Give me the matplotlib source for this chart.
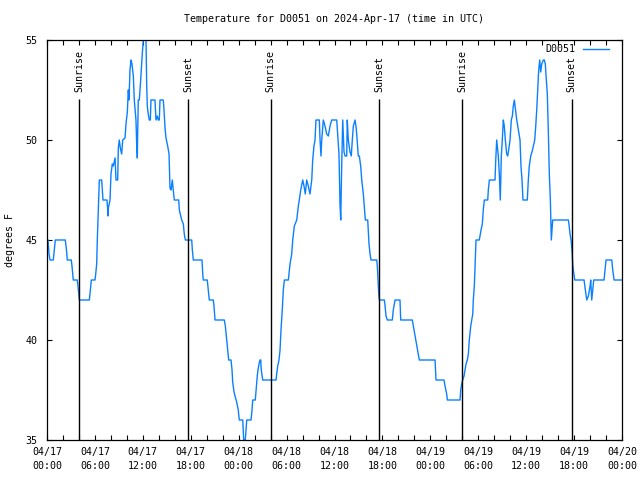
import matplotlib
matplotlib.use("Agg")
import matplotlib.pyplot as plt

# hours since 2024-04-17 00:00 UTC and temperature (F)
hours = [
    0.00, 0.13, 0.25, 0.38, 0.79, 0.94, 1.04, 2.29, 2.44, 2.54, 3.04, 3.13, 3.29, 3.79,
    3.88, 3.97, 4.05, 5.30, 5.38, 5.47, 5.55, 6.01, 6.10, 6.22, 6.30, 6.42, 6.55, 6.85,
    6.95, 7.01, 7.51, 7.60, 7.64, 7.68, 7.89, 8.01, 8.18, 8.30, 8.52, 8.64, 8.85, 8.93,
    9.05, 9.18, 9.35, 9.48, 9.77, 9.89, 10.06, 10.18, 10.27, 10.39, 10.52, 10.64, 10.81,
    10.93, 11.14, 11.23, 11.31, 11.36, 11.43, 11.56, 11.73, 11.93, 12.06, 12.40, 12.48,
    12.56, 12.68, 12.81, 12.94, 13.02, 13.52, 13.65, 13.81, 13.94, 14.06, 14.15, 14.56,
    14.65, 14.78, 14.90, 15.11, 15.28, 15.40, 15.53, 15.69, 15.82, 15.94, 16.49, 16.57,
    16.87, 17.07, 17.19, 17.32, 18.12, 18.20, 18.32, 19.41, 19.50, 19.57, 20.07, 20.20,
    20.32, 20.82, 20.91, 21.04, 22.20, 22.33, 22.50, 22.63, 22.75, 23.04, 23.17, 23.25,
    23.42, 23.54, 23.75, 23.95, 24.08, 24.51, 24.63, 24.83, 24.92, 25.01, 25.55, 25.67,
    25.76, 26.08, 26.21, 26.33, 26.42, 26.55, 26.67, 26.76, 26.83, 27.01, 28.68, 28.76,
    28.89, 29.05, 29.18, 29.30, 29.46, 29.59, 29.72, 30.22, 30.30, 30.43, 30.64, 30.77,
    30.97, 31.27, 31.47, 31.59, 31.77, 32.02, 32.18, 32.34, 32.52, 32.72, 32.93, 33.15,
    33.27, 33.43, 33.56, 33.68, 34.10, 34.19, 34.31, 34.40, 34.60, 34.81, 35.02, 35.23,
    35.44, 35.65, 36.28, 36.40, 36.56, 36.69, 36.78, 36.90, 37.03, 37.19, 37.32, 37.53,
    37.60, 37.73, 37.94, 38.10, 38.23, 38.36, 38.57, 38.69, 38.78, 38.98, 39.11, 39.28,
    39.41, 39.61, 39.73, 39.86, 40.16, 40.23, 40.32, 40.45, 40.57, 41.29, 41.36, 41.45,
    41.54, 41.61, 42.24, 42.32, 42.45, 42.61, 43.24, 43.36, 43.58, 44.20, 44.29, 45.74,
    45.87, 46.08, 46.29, 46.49, 46.62, 48.59, 48.71, 49.71, 49.84, 50.05, 50.13, 51.72,
    51.80, 51.93, 52.05, 52.22, 52.34, 52.47, 52.63, 52.76, 52.88, 53.06, 53.18, 53.31,
    53.38, 53.51, 53.63, 53.72, 54.13, 54.22, 54.35, 54.51, 54.63, 54.76, 55.19, 55.26,
    55.39, 56.10, 56.19, 56.31, 56.39, 56.51, 56.64, 56.76, 56.89, 57.01, 57.14, 57.26,
    57.39, 57.56, 57.69, 57.81, 57.98, 58.14, 58.27, 58.39, 58.52, 58.64, 58.82, 58.94,
    59.10, 59.23, 59.35, 59.48, 59.60, 60.14, 60.27, 60.39, 60.57, 60.73, 60.90, 61.07,
    61.20, 61.32, 61.45, 61.57, 61.70, 61.82, 61.95, 62.15, 62.27, 62.40, 62.49, 62.65,
    62.77, 62.90, 63.03, 63.11, 63.15, 63.24, 63.32, 65.28, 65.37, 65.49, 65.62, 65.74,
    65.83, 65.91, 66.08, 67.25, 67.41, 67.59, 67.79, 67.91, 68.00, 68.08, 68.21, 68.33,
    68.46, 69.75, 69.88, 70.00, 70.72, 70.84, 71.01, 72.00,
]
temps = [
    45, 45, 44.3, 44, 44, 44.6, 45, 45, 44.5, 44, 44, 43.7, 43, 43,
    42.7, 42.3, 42, 42, 42.3, 42.7, 43, 43, 43.3, 43.8, 45, 46.5, 48, 48,
    47.4, 47, 47, 46.5, 46.2, 46.6, 47, 48.3, 48.8, 48.7, 49.1, 48, 48, 49.6,
    50, 49.6, 49.3, 50, 50.1, 50.8, 51.4, 52.5, 52, 53.5, 54, 53.8, 53.2,
    52, 51, 49.8, 49.1, 50.5, 52, 52, 53, 54.3, 55, 55, 52.8,
    51.7, 51.3, 51, 51, 52, 52, 51, 51.2, 51, 51, 52, 52,
    51.5, 50.6, 50.1, 49.7, 49.3, 47.6, 47.5, 48, 47.5, 47, 47, 46.5,
    46, 45.8, 45.3, 45, 45, 44.5, 44, 44, 43.3, 43, 43, 42.5,
    42, 42, 41.7, 41, 41, 40.7, 40, 39.5, 39, 39, 38.5, 37.9,
    37.4, 37.2, 36.9, 36.5, 36, 36, 35, 35, 35.5, 36, 36, 36.5,
    37, 37, 37.6, 38.2, 38.5, 38.8, 39, 39, 38.5, 38, 38, 38.3,
    38.7, 39, 39.5, 40.5, 41.5, 42.5, 43, 43, 43.3, 43.8, 44.3, 45,
    45.7, 46, 46.7, 47, 47.5, 48, 47.7, 47.3, 48, 47.7, 47.3, 48,
    49, 49.7, 50, 51, 51, 50, 49.2, 50, 51, 50.7, 50.3, 50.2,
    50.7, 51, 51, 50.3, 49.3, 46.8, 46, 48.7, 51, 49.4, 49.2, 49.2,
    51, 50, 49.4, 49.2, 50, 50.7, 51, 50.7, 50.3, 49.2, 49.2, 48.7,
    48, 47.3, 46.7, 46, 46, 45.5, 44.8, 44.3, 44, 44, 43.7, 43,
    42.3, 42, 42, 41.75, 41.2, 41, 41, 41.5, 42, 42, 41, 41,
    40.7, 40.2, 39.7, 39.3, 39, 39, 38, 38, 37.7, 37.3, 37, 37,
    37.5, 37.8, 38, 38.2, 38.5, 38.8, 39, 39.3, 40, 40.7, 41, 41.3,
    42, 42.7, 44, 45, 45, 45.2, 45.5, 45.8, 46.5, 47, 47, 47.5,
    48, 48, 49, 50, 49.7, 49.2, 48.3, 47, 49.2, 50, 51, 50.7,
    50, 49.3, 49.2, 49.5, 50, 51, 51.2, 51.7, 52, 51.6, 51, 50.7,
    50.3, 50, 48.7, 48, 47, 47, 48, 48.7, 49.2, 49.4, 49.7, 50,
    50.7, 51.5, 52.5, 53.5, 54, 53.4, 53.8, 54, 54, 53.8, 53.2, 52.3,
    50.5, 48.3, 47, 45.8, 45, 45.5, 46, 46, 45.75, 45.3, 45, 44.5,
    43.8, 43.5, 43, 43, 42.5, 42, 42.2, 42.5, 42.7, 43, 42, 42.5,
    43, 43, 43.5, 44, 44, 43.5, 43, 43,
]

sunrise = [4.03, 28.0, 52.0]
sunset = [17.68, 41.62, 65.7]

xtick_pos = [0, 6, 12, 18, 24, 30, 36, 42, 48, 54, 60, 66, 72]
xtick_labels = ["04/17\n00:00", "04/17\n06:00", "04/17\n12:00", "04/17\n18:00",
                "04/18\n00:00", "04/18\n06:00", "04/18\n12:00", "04/18\n18:00",
                "04/19\n00:00", "04/19\n06:00", "04/19\n12:00", "04/19\n18:00",
                "04/20\n00:00"]

plt.rcParams['font.family'] = ['DejaVu Sans Mono']
plt.rcParams['font.size'] = 7.2

fig = plt.figure(figsize=(6.4, 4.8), dpi=100)
ax = fig.add_axes([47 / 640, 40 / 480, 575 / 640, 400 / 480])

ax.plot(hours, temps, color='#0a80ff', lw=1.0, label='D0051')

for t in sunrise:
    ax.vlines(t, 35, 52.05, color='black', lw=1.0)
    ax.text(t, 52.4, 'Sunrise', rotation=90, ha='center', va='bottom')
for t in sunset:
    ax.vlines(t, 35, 52.05, color='black', lw=1.0)
    ax.text(t, 52.4, 'Sunset', rotation=90, ha='center', va='bottom')

ax.set_xlim(0, 72)
ax.set_ylim(35, 55)
ax.set_xticks(xtick_pos)
ax.set_xticklabels(xtick_labels, linespacing=1.5)
ax.set_xticks(range(0, 73, 2), minor=True)
ax.set_yticks([35, 40, 45, 50, 55])
ax.tick_params(which='both', direction='in', length=3.5, width=0.8,
               top=True, right=True, pad=5)
ax.tick_params(axis='y', pad=7)
for s in ax.spines.values():
    s.set_linewidth(0.9)

ax.legend(loc='upper right', frameon=False, markerfirst=False,
          handlelength=2.6, handletextpad=0.8, borderpad=0, borderaxespad=0,
          bbox_to_anchor=(609 / 640, 1 - 44 / 480), bbox_transform=fig.transFigure)

fig.text(334 / 640, 1 - 19 / 480, 'Temperature for D0051 on 2024-Apr-17 (time in UTC)',
         ha='center', va='center')
fig.text(10 / 640, 0.5, 'degrees F', rotation=90, ha='center', va='center')

fig.savefig('out.png', dpi=100)
